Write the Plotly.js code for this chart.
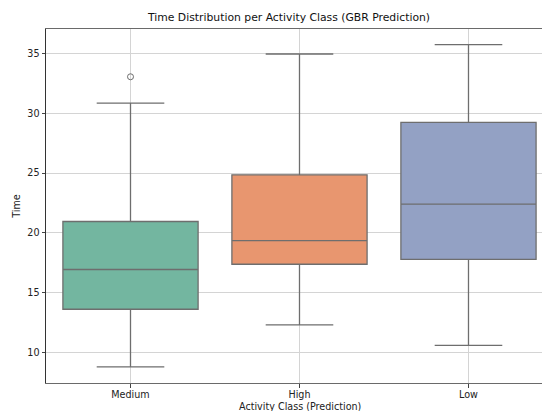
<!DOCTYPE html>
<html>
<head>
<meta charset="utf-8">
<script src="https://cdn.plot.ly/plotly-3.0.1.min.js"></script>
<style>html,body{margin:0;padding:0;background:#fff;}#chart{width:542px;height:411px;}</style>
</head>
<body>
<div id="chart"></div>
<script>
const categories = ['Medium', 'High', 'Low'];
const q1Values = [13.62, 17.38, 17.78];
const medianValues = [16.94, 19.36, 22.40];
const q3Values = [20.95, 24.85, 29.23];
const lowerWhiskers = [8.80, 12.31, 10.61];
const upperWhiskers = [30.84, 34.94, 35.72];
const outlierCategories = ['Medium'];
const outlierValues = [33.04];
const boxColors = ['#73b6a0', '#e8966f', '#93a1c4'];
const yTicks = [10, 15, 20, 25, 30, 35];

const edge = '#6e6e6e';
const traces = categories.map((c, i) => ({
  type: 'box',
  name: c,
  x: [c],
  q1: [q1Values[i]],
  median: [medianValues[i]],
  q3: [q3Values[i]],
  lowerfence: [lowerWhiskers[i]],
  upperfence: [upperWhiskers[i]],
  fillcolor: boxColors[i],
  line: {color: edge, width: 1.3},
  width: 0.8,
  whiskerwidth: 0.5,
  boxpoints: false,
  showlegend: false,
  hoverinfo: 'skip'
}));
traces.push({
  type: 'scatter',
  mode: 'markers',
  x: outlierCategories,
  y: outlierValues,
  marker: {symbol: 'circle-open', size: 6, color: edge, line: {width: 1, color: edge}},
  showlegend: false,
  hoverinfo: 'skip'
});

const layout = {
  width: 542, height: 411,
  margin: {l: 46, r: 0, t: 29, b: 28, pad: 0},
  paper_bgcolor: '#fff', plot_bgcolor: '#fff',
  font: {family: 'DejaVu Sans', size: 9.6, color: '#222'},
  title: {text: 'Time Distribution per Activity Class (GBR Prediction)', x: 0.49, xref: 'paper', xanchor: 'center', y: 1, yref: 'container', yanchor: 'top', pad: {t: 13}, font: {size: 10.8, color: '#111'}},
  xaxis: {
    type: 'category', categoryarray: categories, categoryorder: 'array',
    range: [-0.5, 2.435],
    showgrid: true, gridcolor: '#d4d4d4', gridwidth: 1,
    showline: true, linecolor: '#6a6a6a', linewidth: 1.3, mirror: true,
    ticks: 'outside', ticklen: 3.5, tickcolor: '#444',
    ticklabelstandoff: -1,
    tickfont: {size: 9.6, color: '#222'},
    zeroline: false
  },
  yaxis: {
    range: [7.46, 37.03],
    tickvals: yTicks,
    showgrid: true, gridcolor: '#d4d4d4', gridwidth: 1,
    showline: true, linecolor: '#333', linewidth: 1,
    ticks: 'outside', ticklen: 3.5, tickcolor: '#444',
    tickfont: {size: 9.6, color: '#222'},
    title: {text: 'Time', standoff: 5, font: {size: 9.6, color: '#222'}},
    zeroline: false
  },
  annotations: [{
    text: 'Activity Class (Prediction)',
    xref: 'paper', yref: 'paper',
    x: 0.5115, y: -0.066, xanchor: 'center', yanchor: 'middle',
    showarrow: false, font: {size: 9.6, color: '#222'}
  }],
  boxgap: 0, boxgroupgap: 0
};
Plotly.newPlot('chart', traces, layout, {displayModeBar: false, staticPlot: true});
</script>
</body>
</html>
